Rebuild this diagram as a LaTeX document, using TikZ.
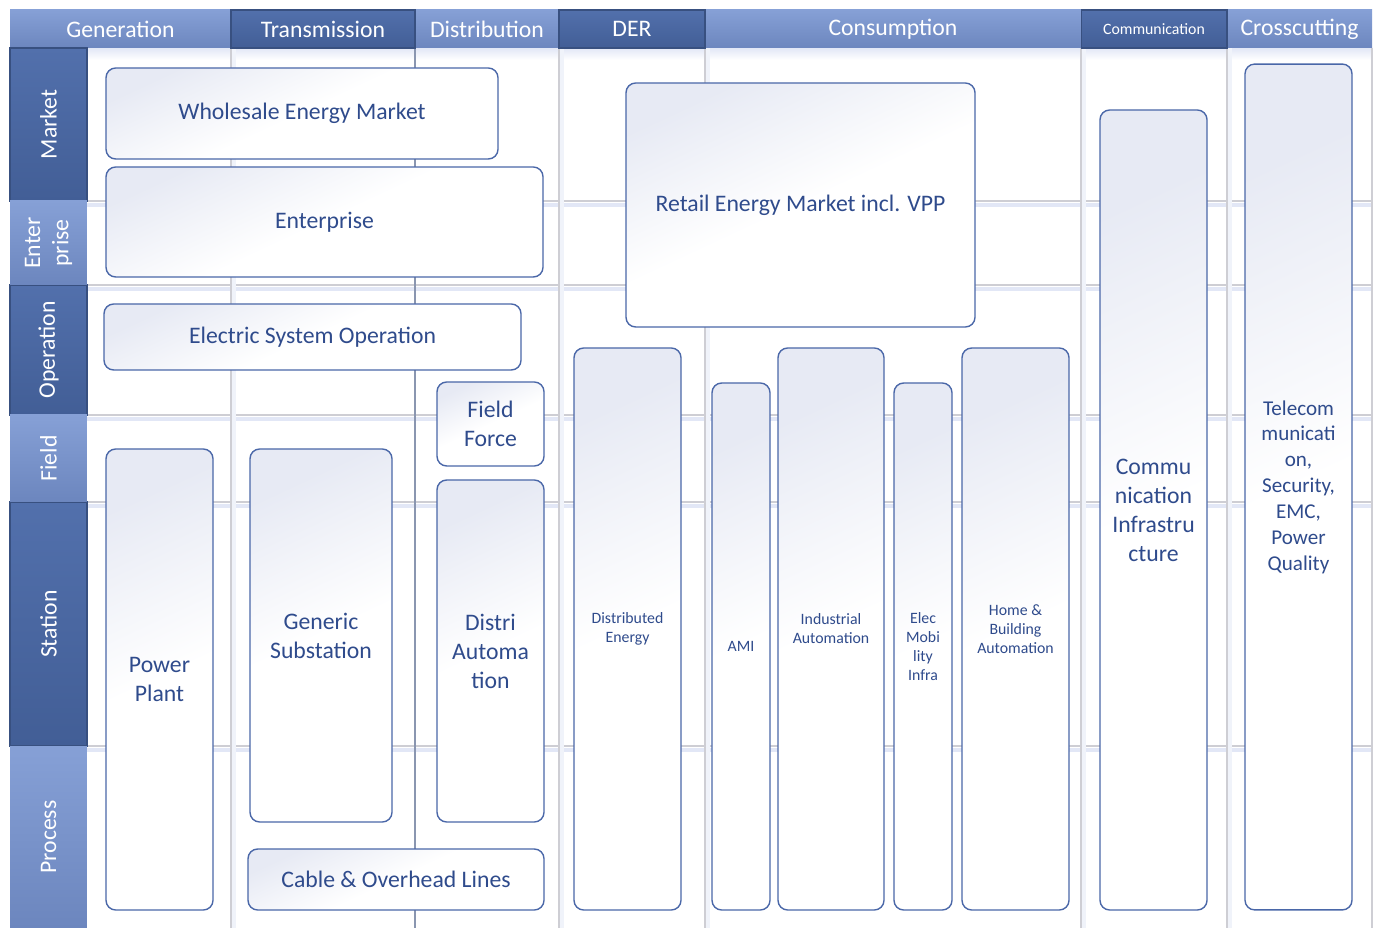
\documentclass[tikz,border=0pt]{standalone}
\usepackage{fontspec}
\setmainfont{Carlito}

\definecolor{hdark}{RGB}{66,94,150}
\definecolor{hdarktop}{RGB}{82,112,172}
\definecolor{hlight}{RGB}{108,134,190}
\definecolor{hlighttop}{RGB}{134,160,214}
\definecolor{txtblue}{RGB}{47,75,140}
\definecolor{edge}{RGB}{74,103,168}
\definecolor{boxtop}{RGB}{231,234,244}
\definecolor{gridgrey}{RGB}{206,206,212}
\definecolor{gridblue}{RGB}{226,231,246}
\definecolor{mainline}{RGB}{138,150,176}

\tikzset{
  hdr/.style={text=white, inner sep=0pt, font=\fontsize{13.5}{16}\selectfont},
  hdrdark/.style={hdr, draw=hdark!85!black, line width=0.6pt, top color=hdarktop, bottom color=hdark},
  hdrlight/.style={hdr, top color=hlighttop, bottom color=hlight},
  blk/.style={draw=edge, line width=0.8pt, rounded corners=5.5pt,
    top color=boxtop, bottom color=white, middle color=white, shading angle=25,
    text=txtblue, align=center, inner sep=0pt, font=\fontsize{13.5}{16.5}\selectfont},
  blksmall/.style={blk, font=\fontsize{9}{10.8}\selectfont},
  blkmid/.style={blk, font=\fontsize{12}{14.7}\selectfont},
  gridline/.style={draw=gridgrey, line width=0.8pt},
  gridshadow/.style={draw=gridblue, line width=2.4pt},
}

\begin{document}
\begin{tikzpicture}[x=0.02cm,y=-0.02cm]
  \useasboundingbox (0,0) rectangle (1378,928);
  % shadow below the header
  \shade[top color=gridblue, bottom color=white] (87,48) rectangle (1372,60);
  % grid
  \foreach \y in {201,285,415,502,746}
  {   \draw[gridshadow] (87,\y+4) -- (1372,\y+4);
      \draw[gridline] (87,\y) -- (1372,\y);
  }
  \foreach \x in {231,559,705,1081,1227}
  {   \draw[gridshadow,draw=gridblue!50] (\x+3,48) -- (\x+3,928);
      \draw[gridline] (\x,48) -- (\x,928);
  }
  \draw[gridline,line width=1.6pt] (1372,48) -- (1372,928);
  \draw[draw=mainline,line width=1.3pt] (415,48) -- (415,928);
  % domains
  \foreach \n/\xa/\xb/\t in {gen/10/231/Generation, dist/415/559/Distribution,
      cons/705/1081/Consumption, cross/1227/1372/Crosscutting}
  {   \node[hdrlight, minimum width={(\xb-\xa)*0.02cm}, minimum height=0.76cm]
        (\n) at ({(\xa+\xb)/2},29) {\t};
  }
  \foreach \n/\xa/\xb/\t in {trans/231/415/Transmission, der/559/705/DER}
  {   \node[hdrdark, minimum width={(\xb-\xa)*0.02cm}, minimum height=0.76cm]
        (\n) at ({(\xa+\xb)/2},29) {\t};
  }
  \node[hdrdark, font=\fontsize{9}{11}\selectfont, minimum width=2.92cm, minimum height=0.76cm]
    (comm) at (1154,29) {Communication};
  % zones
  \foreach \n/\ya/\yb/\t in {market/48/201/Market, oper/285/415/Operation, station/502/746/Station}
  {   \node[hdrdark, rotate=90, minimum width={(\yb-\ya)*0.02cm}, minimum height=1.54cm]
        (\n) at (48.5,{(\ya+\yb)/2}) {\t};
  }
  \foreach \n/\ya/\yb/\t in {enter/201/285/{Enter\\prise}, field/415/502/Field, process/746/928/Process}
  {   \node[hdrlight, rotate=90, align=center, minimum width={(\yb-\ya)*0.02cm}, minimum height=1.54cm]
        (\n) at (48.5,{(\ya+\yb)/2}) {\t};
  }
  % components
  \foreach \n/\xa/\ya/\xb/\yb/\t in {
      wem/106/68/498/159/{Wholesale Energy Market},
      ent/106/167/543/277/{Enterprise},
      retail/626/83/975/327/{Retail Energy Market incl. VPP},
      eso/104/304/521/370/{Electric System Operation},
      force/437/382/544/466/{Field\\Force},
      plant/106/449/213/910/{Power\\Plant},
      subst/250/449/392/822/{Generic\\Substation},
      da/437/480/544/822/{Distri\\Automa\\tion},
      lines/248/849/544/910/{Cable \& Overhead Lines},
      cominfra/1100/110/1207/910/{Commu\\nication\\Infrastru\\cture}}
  {   \node[blk, minimum width={(\xb-\xa)*0.02cm}, minimum height={(\yb-\ya)*0.02cm}]
        (\n) at ({(\xa+\xb)/2},{(\ya+\yb)/2}) {\t};
  }
  \foreach \n/\xa/\ya/\xb/\yb/\t in {
      de/574/348/681/910/{Distributed\\Energy},
      ami/712/383/770/910/{AMI},
      ia/778/348/884/910/{Industrial\\Automation},
      emob/894/383/952/910/{Elec\\Mobi\\lity\\Infra},
      hba/962/348/1069/910/{Home \&\\Building\\Automation}}
  {   \node[blksmall, minimum width={(\xb-\xa)*0.02cm}, minimum height={(\yb-\ya)*0.02cm}]
        (\n) at ({(\xa+\xb)/2},{(\ya+\yb)/2}) {\t};
  }
  \node[blkmid, minimum width=2.14cm, minimum height=16.92cm] (telecom) at (1298.5,487)
    {Telecom\\municati\\on,\\Security,\\EMC,\\Power\\Quality};
\end{tikzpicture}
\end{document}
